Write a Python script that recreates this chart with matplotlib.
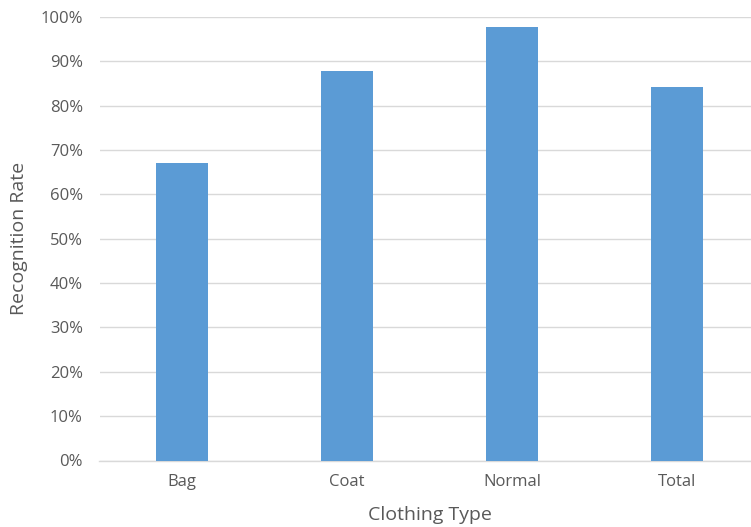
import matplotlib
matplotlib.use('Agg')
import matplotlib.pyplot as plt
from matplotlib.ticker import PercentFormatter

plt.rcParams['font.family'] = ['Open Sans', 'DejaVu Sans']

# Recognition rate per clothing type
categories = ['Bag', 'Coat', 'Normal', 'Total']
rates = [0.671, 0.878, 0.976, 0.842]

fig = plt.figure(figsize=(7.51, 5.27), dpi=100)
ax = fig.add_axes([99.5 / 751, (527 - 460.5) / 527, 660 / 751, 443.7 / 527])

x = range(len(categories))
ax.bar(x, rates, width=0.315, color='#5B9BD5', zorder=3)

ax.set_xlim(-0.5, 3.5)
ax.set_ylim(0, 1.0)
ax.set_yticks([i / 10 for i in range(11)])
ax.yaxis.set_major_formatter(PercentFormatter(1.0, decimals=0))
ax.set_xticks(list(x))
ax.set_xticklabels(categories)

ax.grid(axis='y', color='#D9D9D9', linewidth=1, zorder=0)
for side in ['top', 'right', 'left']:
    ax.spines[side].set_visible(False)
ax.spines['bottom'].set_color('#D9D9D9')
ax.spines['bottom'].set_linewidth(1)
ax.tick_params(length=0, labelsize=12, colors='#595959')
ax.tick_params(axis='y', pad=12)
ax.tick_params(axis='x', pad=10)

ax.set_xlabel('Clothing Type', fontsize=14, color='#595959', labelpad=11)
ax.set_ylabel('Recognition Rate', fontsize=14, color='#595959', labelpad=9)

fig.savefig('out.png', dpi=100)
